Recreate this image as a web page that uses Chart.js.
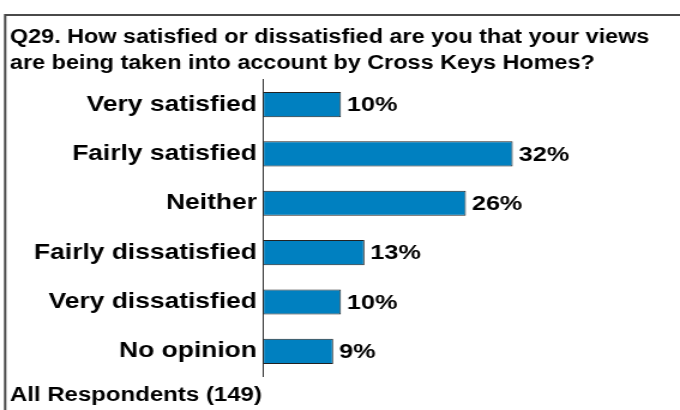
<!DOCTYPE html>
<html>
<head>
<meta charset="utf-8">
<script src="https://cdn.jsdelivr.net/npm/chart.js@4/dist/chart.umd.min.js"></script>
<style>
  body { margin: 0; background: #fff; }
</style>
</head>
<body>
<!-- drawn 567px wide and shown 680px wide, which gives the wide lettering -->
<canvas id="canv" width="567" height="410" style="width:680px;height:410px"></canvas>
<script>
var questionText = ["Q29. How satisfied or dissatisfied are you that your views",
                    "are being taken into account by Cross Keys Homes?"];
var baseText = "All Respondents (149)";
var answers = ["Very satisfied", "Fairly satisfied", "Neither", "Fairly dissatisfied", "Very dissatisfied", "No opinion"];
var percents = [10, 32, 26, 13, 10, 9];

var fontName = "'Liberation Sans', Arial, sans-serif";

// frame lines along the top and left edge
var framePlugin = {
  id: "frame",
  beforeDraw: function(chart) {
    var c = chart.ctx;
    c.save();
    c.strokeStyle = "#4a4a4a";
    c.lineWidth = 2;
    c.beginPath();
    c.moveTo(4.3, 410);
    c.lineTo(4.3, 15);
    c.lineTo(chart.width, 15);
    c.stroke();
    c.restore();
  }
};

// percentage text at the end of each bar
var valuePlugin = {
  id: "values",
  afterDatasetsDraw: function(chart) {
    var c = chart.ctx;
    var meta = chart.getDatasetMeta(0);
    c.save();
    c.font = "bold 21px " + fontName;
    c.fillStyle = "#000";
    c.textAlign = "left";
    c.textBaseline = "middle";
    meta.data.forEach(function(bar, i) {
      c.fillText(percents[i] + "%", bar.x + 5, bar.y + 1);
    });
    c.restore();
  }
};

var chart = new Chart(document.getElementById("canv"), {
  type: "bar",
  data: {
    labels: answers,
    datasets: [{
      data: percents,
      backgroundColor: "#0080c0",
      borderColor: "#222",
      borderWidth: 1,
      borderSkipped: false,
      barPercentage: 0.51,
      categoryPercentage: 1
    }]
  },
  options: {
    indexAxis: "y",
    responsive: false,
    animation: false,
    layout: { padding: { left: 8.3, right: 22.3, top: 25, bottom: 3 } },
    plugins: {
      legend: { display: false },
      tooltip: { enabled: false },
      title: {
        display: true,
        text: questionText,
        align: "start",
        color: "#000",
        font: { family: fontName, size: 19.5, weight: "bold", lineHeight: 1.33 },
        padding: { top: 0, bottom: 3 }
      },
      subtitle: {
        display: true,
        position: "bottom",
        text: baseText,
        align: "start",
        color: "#000",
        font: { family: fontName, size: 20, weight: "bold", lineHeight: 1.2 },
        padding: { top: 7, bottom: 0 }
      }
    },
    scales: {
      x: {
        display: false,
        min: 0,
        max: 50
      },
      y: {
        afterFit: function(scale) { scale.width = 210.9; },
        grid: { display: false, drawTicks: false },
        border: { display: true, color: "#333", width: 1 },
        ticks: {
          color: "#000",
          padding: 5,
          font: { family: fontName, size: 22, weight: "bold" }
        }
      }
    }
  },
  plugins: [framePlugin, valuePlugin]
});
</script>
</body>
</html>
